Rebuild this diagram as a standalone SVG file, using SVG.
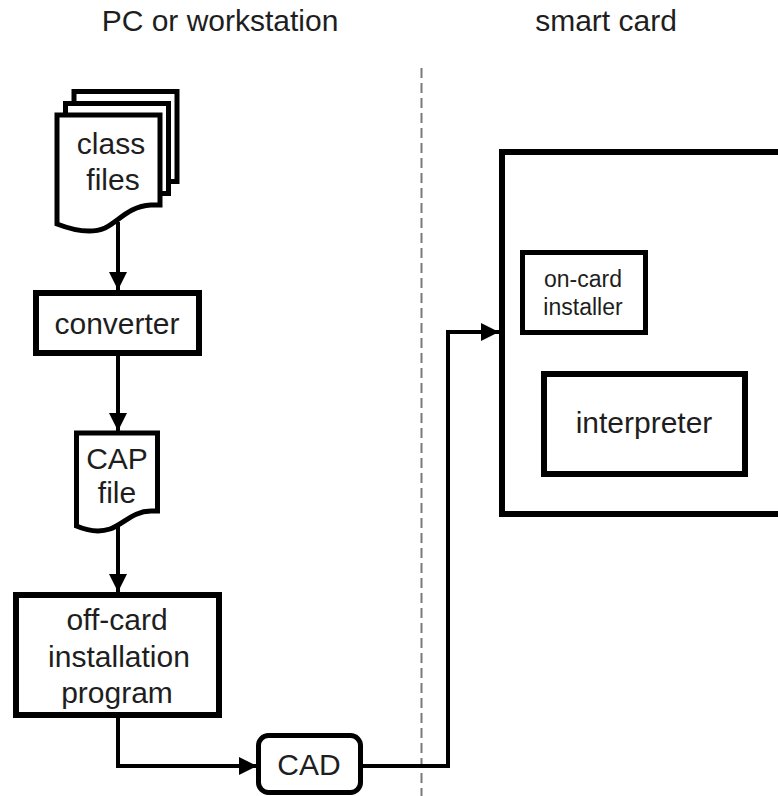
<svg xmlns="http://www.w3.org/2000/svg" width="778" height="796" viewBox="0 0 778 796">
  <style>
    text { font-family: "Liberation Sans", Arial, sans-serif; fill: #1e1e1e; text-anchor: middle; }
    .big { font-size: 30px; }
    .small { font-size: 23px; }
    .box { fill: #ffffff; stroke: #000000; stroke-width: 6; stroke-linejoin: miter; }
    .doc { fill: #ffffff; stroke: #000000; stroke-width: 5; stroke-linejoin: miter; }
    .wire { fill: none; stroke: #000000; stroke-width: 4; stroke-linejoin: miter; }
    .divider { fill: none; stroke: #7a7a7a; stroke-width: 2; stroke-dasharray: 10 5; }
  </style>
  <defs>
    <marker id="arrow" viewBox="0 0 18 18" refX="18" refY="9" markerWidth="18" markerHeight="18" markerUnits="userSpaceOnUse" orient="auto">
      <path d="M0,0 L18,9 L0,18 Z" fill="#000000"/>
    </marker>
    <!-- document sheet with a wavy lower edge, origin at top-left -->
    <path id="sheet" d="M0,0 H103 V90 L94,90 C72,91 62,106 48,113 C34,119 18,116 0,109 Z"/>
  </defs>

  <rect width="778" height="796" fill="#ffffff"/>

  <!-- column headings -->
  <text class="big" x="220" y="31">PC or workstation</text>
  <text class="big" x="606" y="31">smart card</text>

  <!-- boundary between PC and card -->
  <line class="divider" x1="421.5" y1="68" x2="421.5" y2="796"/>

  <g id="connectors">
    <line class="wire" x1="118" y1="222" x2="118" y2="290" marker-end="url(#arrow)"/>
    <line class="wire" x1="118" y1="356" x2="118" y2="431" marker-end="url(#arrow)"/>
    <line class="wire" x1="118" y1="520" x2="118" y2="592" marker-end="url(#arrow)"/>
    <polyline class="wire" points="118,718 118,766 257,766" marker-end="url(#arrow)"/>
    <polyline class="wire" points="362,766 448,766 448,332 499,332" marker-end="url(#arrow)"/>
  </g>

  <g id="class-files">
    <use href="#sheet" class="doc" x="74" y="91.5"/>
    <use href="#sheet" class="doc" x="65.5" y="103.5"/>
    <use href="#sheet" class="doc" x="57" y="115"/>
    <text class="big" x="111" y="154">class</text>
    <text class="big" x="113" y="190">files</text>
  </g>

  <g id="converter">
    <rect class="box" x="36" y="293" width="163" height="60"/>
    <text class="big" x="117" y="334">converter</text>
  </g>

  <g id="cap-file">
    <path class="doc" d="M76.5,433 H157.5 V511 L151,511 C133,511 124,524 110,529 C98,533 88,531 76.5,526 Z"/>
    <text class="big" x="117" y="469">CAP</text>
    <text class="big" x="117" y="503">file</text>
  </g>

  <g id="off-card-installation-program">
    <rect class="box" x="16" y="595" width="203" height="120"/>
    <text class="big" x="117" y="630">off-card</text>
    <text class="big" x="119" y="667">installation</text>
    <text class="big" x="117" y="703">program</text>
  </g>

  <g id="cad">
    <rect class="doc" x="258.5" y="735.5" width="102" height="57" rx="10" ry="10"/>
    <text class="big" x="309" y="775">CAD</text>
  </g>

  <g id="smart-card">
    <rect class="box" x="502" y="152" width="290" height="362"/>
  </g>

  <g id="on-card-installer">
    <rect class="doc" x="522.5" y="252.5" width="123" height="80"/>
    <text class="small" x="583" y="287">on-card</text>
    <text class="small" x="583" y="315">installer</text>
  </g>

  <g id="interpreter">
    <rect class="box" x="544" y="374" width="201" height="100"/>
    <text class="big" x="644" y="433">interpreter</text>
  </g>
</svg>
